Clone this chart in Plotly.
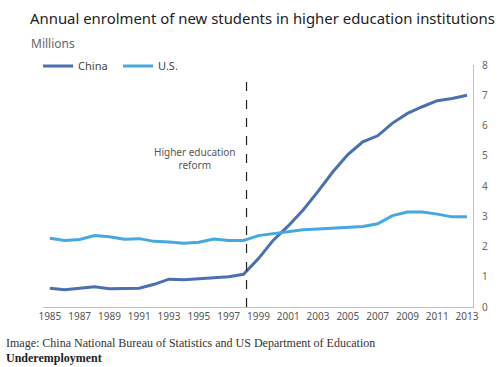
import plotly.graph_objects as go

years = list(range(1985, 2014))
china = [0.62, 0.57, 0.62, 0.67, 0.60, 0.61, 0.62, 0.75, 0.92, 0.90, 0.93, 0.97, 1.00, 1.08,
         1.60, 2.21, 2.68, 3.21, 3.82, 4.47, 5.04, 5.46, 5.66, 6.08, 6.40, 6.62, 6.82, 6.89, 7.00]
us = [2.27, 2.20, 2.23, 2.36, 2.32, 2.24, 2.26, 2.17, 2.15, 2.11, 2.14, 2.25, 2.20, 2.20,
      2.36, 2.43, 2.48, 2.55, 2.58, 2.60, 2.63, 2.66, 2.75, 3.02, 3.14, 3.14, 3.07, 2.98, 2.98]
xtick_vals = list(range(1985, 2014, 2))
ytick_vals = list(range(0, 9))
reform_year = 1998.2
title = "Annual enrolment of new students in higher education institutions"
units = "Millions"
note = "Higher education<br>reform"
source = "Image: China National Bureau of Statistics and US Department of Education"
footer = "Underemployment"

W, H = 500, 367
L, R, T, B = 43, 21, 65, 60
pw, ph = W - L - R, H - T - B


def px(x):
    return (x - L) / pw


def py(y):
    return (H - B - y) / ph


fig = go.Figure()
fig.add_trace(go.Scatter(x=years, y=china, mode="lines", name="China",
                         line=dict(color="#4b6fb0", width=3)))
fig.add_trace(go.Scatter(x=years, y=us, mode="lines", name="U.S.",
                         line=dict(color="#45a8e0", width=3)))

fig.add_shape(type="line", xref="x", yref="y", x0=reform_year, x1=reform_year,
              y0=0, y1=7.55, line=dict(color="#222222", width=1.2, dash="dash"))

sans = "Noto Sans"
anns = [
    dict(text=title, x=px(28), y=py(18), xanchor="left", yanchor="middle",
         font=dict(family=sans, size=14.9, color="#222222")),
    dict(text=units, x=px(29), y=py(43), xanchor="left", yanchor="middle",
         font=dict(family=sans, size=12, color="#666666")),
    dict(text=note, x=px(197), y=py(158), xanchor="center", yanchor="middle",
         font=dict(family=sans, size=10, color="#555555")),
    dict(text=source, x=px(3), y=py(343), xanchor="left", yanchor="middle",
         font=dict(family="Liberation Serif", size=12, color="#333333")),
    dict(text="<b>" + footer + "</b>", x=px(3), y=py(358), xanchor="left", yanchor="middle",
         font=dict(family="Liberation Serif", size=12, color="#222222")),
]
for a in anns:
    a.update(xref="paper", yref="paper", showarrow=False)

fig.update_layout(
    width=W, height=H,
    margin=dict(l=L, r=R, t=T, b=B),
    paper_bgcolor="white", plot_bgcolor="white",
    annotations=anns,
    showlegend=True,
    legend=dict(orientation="h", x=px(38), y=py(66), xanchor="left", yanchor="middle",
                font=dict(family=sans, size=11, color="#444444"),
                bgcolor="rgba(0,0,0,0)", itemwidth=30, tracegroupgap=0,
                entrywidth=35, entrywidthmode="pixels"),
    xaxis=dict(range=[1984.54, 2013.4], tickvals=xtick_vals, showgrid=False,
               zeroline=False, showline=True, linecolor="#bfbfbf", linewidth=1,
               ticks="", tickfont=dict(family=sans, size=10, color="#555555")),
    yaxis=dict(range=[0, 8], tickvals=ytick_vals, side="right", showgrid=False,
               zeroline=False, showline=True, linecolor="#a9c3e3", linewidth=1,
               ticks="", ticklabelstandoff=6,
               tickfont=dict(family=sans, size=10, color="#666666")),
)

fig.write_html("out.html", config={"displayModeBar": False},
               post_script="document.body.style.margin='0';document.body.style.overflow='hidden';")
